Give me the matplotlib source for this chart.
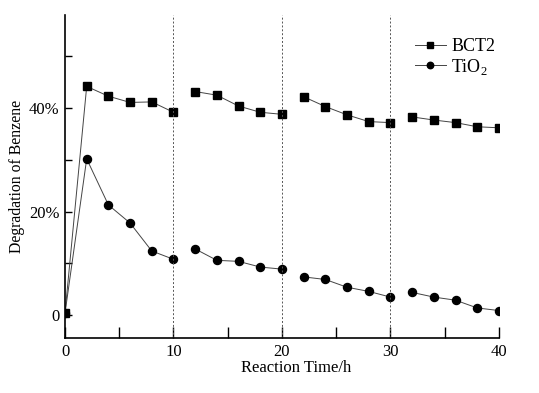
import matplotlib
matplotlib.use("Agg")
import matplotlib.pyplot as plt
import numpy as np

plt.rcParams['font.family'] = ['Liberation Serif', 'DejaVu Serif']
plt.rcParams['mathtext.fontset'] = 'custom'
plt.rcParams['mathtext.rm'] = 'Liberation Serif'

time_h = [0, 2, 4, 6, 8, 10, 12, 14, 16, 18, 20, 22, 24, 26, 28, 30, 32, 34, 36, 38, 40]
bct2 = [0.4, 44.2, 42.3, 41.1, 41.2, 39.2, 43.2, 42.5, 40.4, 39.2, 38.8,
        42.2, 40.3, 38.7, 37.4, 37.2, 38.3, 37.7, 37.2, 36.4, 36.2]
tio2 = [0.4, 30.2, 21.3, 17.8, 12.4, 10.8, 12.8, 10.6, 10.4, 9.3, 8.9,
        7.4, 6.9, 5.4, 4.6, 3.5, 4.4, 3.5, 2.9, 1.4, 0.9]
segments = [(0, 6), (6, 11), (11, 16), (16, 21)]
cycle_marks = [10, 20, 30]
x_labels = ['0', '10', '20', '30', '40']

fig = plt.figure(figsize=(5.39, 3.93), dpi=100)
ax = fig.add_axes([0.1206, 0.140, 0.805, 0.822])

t = np.array(time_h)
for series, mk, ms, lab in [(bct2, 's', 5.2, 'BCT2'), (tio2, 'o', 5.8, 'TiO$_2$')]:
    s = np.array(series)
    for i, (a, b) in enumerate(segments):
        ax.plot(t[a:b], s[a:b], color='#444444', lw=0.7, marker=mk, ms=ms,
                mfc='black', mec='black', label=lab if i == 0 else None)

for xv in cycle_marks:
    ax.axvline(xv, color='#555555', lw=0.7, ls=(0, (2, 2)))

ax.set_xlim(0, 40)
ax.set_ylim(-4.4, 58)
ax.set_xticks([0, 10, 20, 30, 40])
ax.set_xticklabels(x_labels)
ax.set_xticks([5, 15, 25, 35], minor=True)
ax.set_yticks([0, 10, 20, 30, 40, 50])
ax.set_yticklabels(['0', '', '20%', '', '40%', ''])
ax.tick_params(axis='x', which='both', direction='in', length=8, width=1, labelsize=12, pad=4)
ax.tick_params(axis='y', which='both', direction='in', length=5, width=1, labelsize=12, pad=4)
for sp in ['top', 'right']:
    ax.spines[sp].set_visible(False)
for sp in ['left', 'bottom']:
    ax.spines[sp].set_linewidth(1.2)

ax.set_xlabel('Reaction Time/h', fontsize=12, labelpad=0, x=0.532)
ax.set_ylabel('Degradation of Benzene', fontsize=11.3, labelpad=3)

ax.legend(loc='upper left', bbox_to_anchor=(415 / 539, 1 - 38 / 393),
          bbox_transform=fig.transFigure, frameon=False, fontsize=13,
          borderpad=0, borderaxespad=0, markerscale=0.8,
          handlelength=1.7, handletextpad=0.3, labelspacing=0.1)

fig.savefig('out.png', dpi=100)
